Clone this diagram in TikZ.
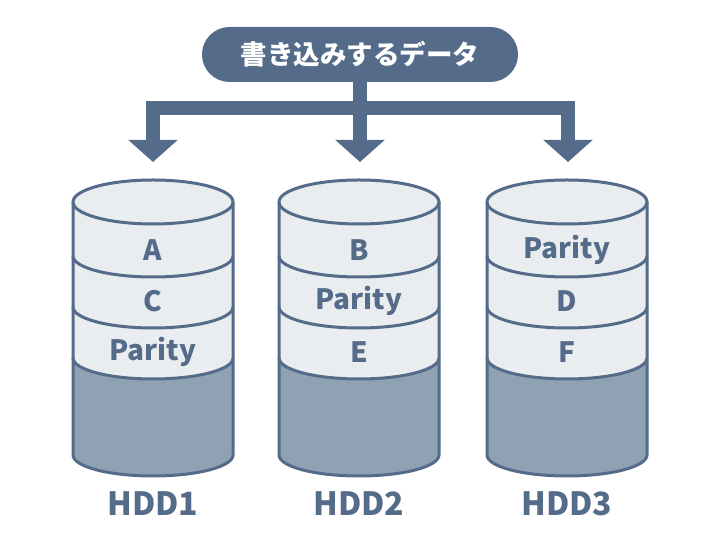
\documentclass[tikz,border=0pt]{standalone}
\usepackage{fontspec}
\setmainfont{Noto Sans CJK JP}
\usetikzlibrary{arrows.meta}
\definecolor{edgec}{RGB}{84,107,137}
\definecolor{lightc}{RGB}{234,237,240}
\definecolor{darkc}{RGB}{142,162,180}
\tikzset{
  conn/.style={draw=edgec, line width=14pt, line cap=butt, line join=miter,
    -{Triangle[width=48pt,length=22pt]}},
  title/.style={fill=edgec, rounded corners=27.5pt, minimum width=316pt, minimum height=55pt,
    inner sep=0pt, text=white, font=\bfseries\fontsize{26.5}{26.5}\selectfont},
  bandlabel/.style={text=edgec, inner sep=0pt, font=\bfseries\fontsize{28}{28}\selectfont},
  hddlabel/.style={text=edgec, inner sep=0pt, font=\bfseries\fontsize{32}{32}\selectfont},
  cylline/.style={draw=edgec, line width=3pt, line join=round},
}
\newcommand{\hddcyl}[6]{%
  \fill[lightc] (#1-80,338) -- (#1-80,182) arc[start angle=180,end angle=360,x radius=80,y radius=21] -- (#1+80,338) -- cycle;
  \fill[lightc] (#1,338) ellipse[x radius=80,y radius=22];
  \fill[darkc] (#1-80,182) arc[start angle=180,end angle=360,x radius=80,y radius=21] -- (#1+80,85) arc[start angle=0,end angle=-180,x radius=80,y radius=21] -- cycle;
  \draw[cylline] (#1-80,338) -- (#1-80,85) arc[start angle=180,end angle=360,x radius=80,y radius=21] -- (#1+80,338);
  \draw[cylline] (#1,338) ellipse[x radius=80,y radius=22];
  \draw[cylline] (#1-80,284) arc[start angle=180,end angle=360,x radius=80,y radius=21];
  \draw[cylline] (#1-80,233) arc[start angle=180,end angle=360,x radius=80,y radius=21];
  \draw[cylline] (#1-80,182) arc[start angle=180,end angle=360,x radius=80,y radius=21];
  \node[bandlabel] (#2a) at (#1,290) {#3};
  \node[bandlabel] (#2b) at (#1,239) {#4};
  \node[bandlabel] (#2c) at (#1,188) {#5};
  \node[hddlabel] (#2l) at (#1,36) {#6};
}
\begin{document}
\begin{tikzpicture}[x=1pt,y=1pt]
\useasboundingbox (0,0) rectangle (720,540);
\fill[white] (0,0) rectangle (720,540);
\node[title] (title) at (360,485.5) {書き込みするデータ};
\coordinate (bar) at (360,431.5);
\coordinate (tip1) at (153,378);
\coordinate (tip2) at (360,378);
\coordinate (tip3) at (568,378);
\draw[conn] (title.south) -- (bar) -| (tip1);
\draw[conn] (bar) -| (tip3);
\draw[conn] (bar) -- (tip2);
\hddcyl{153}{h1}{A}{C}{Parity}{HDD1}
\hddcyl{359}{h2}{B}{Parity}{E}{HDD2}
\hddcyl{567}{h3}{Parity}{D}{F}{HDD3}
\end{tikzpicture}
\end{document}
